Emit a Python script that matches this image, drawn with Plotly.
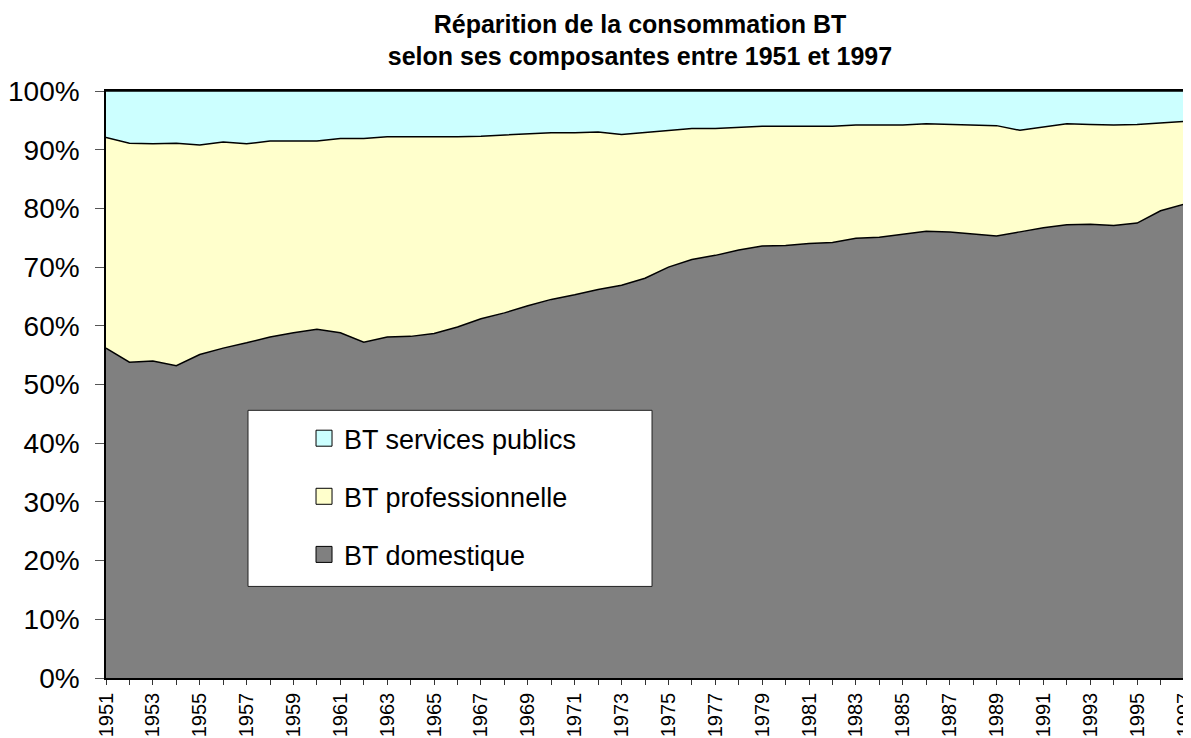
import plotly.graph_objects as go

years = list(range(1951, 1998))

bt_domestique = [56.2, 53.8, 54.0, 53.2, 55.1, 56.2, 57.1, 58.1, 58.8, 59.4,
                 58.8, 57.2, 58.1, 58.2, 58.7, 59.8, 61.2, 62.2, 63.4, 64.5,
                 65.3, 66.2, 66.9, 68.1, 70.0, 71.3, 72.0, 72.9, 73.6, 73.7,
                 74.0, 74.2, 74.9, 75.1, 75.6, 76.1, 76.0, 75.6, 75.3, 76.0,
                 76.7, 77.2, 77.3, 77.1, 77.5, 79.6, 80.7]

bt_professionnelle = [35.9, 37.3, 37.0, 37.9, 35.7, 35.1, 33.9, 33.4, 32.7, 32.1,
                      33.1, 34.7, 34.1, 34.0, 33.4, 32.4, 31.1, 30.3, 29.3, 28.4,
                      27.6, 26.8, 25.7, 24.8, 23.3, 22.3, 21.6, 20.9, 20.4, 20.3,
                      20.0, 19.8, 19.3, 19.1, 18.6, 18.3, 18.3, 18.6, 18.8, 17.3,
                      17.1, 17.2, 17.0, 17.1, 16.8, 14.9, 14.1]

bt_services_publics = [7.9, 8.9, 9.0, 8.9, 9.2, 8.7, 9.0, 8.5, 8.5, 8.5,
                       8.1, 8.1, 7.8, 7.8, 7.9, 7.8, 7.7, 7.5, 7.3, 7.1,
                       7.1, 7.0, 7.4, 7.1, 6.7, 6.4, 6.4, 6.2, 6.0, 6.0,
                       6.0, 6.0, 5.8, 5.8, 5.8, 5.6, 5.7, 5.8, 5.9, 6.7,
                       6.2, 5.6, 5.7, 5.8, 5.7, 5.5, 5.2]

series = [
    ("BT domestique", bt_domestique, "#808080"),
    ("BT professionnelle", bt_professionnelle, "#FFFFCC"),
    ("BT services publics", bt_services_publics, "#CCFFFF"),
]

FONT = "Liberation Sans, Arial, sans-serif"

fig = go.Figure()
for name, vals, col in series:
    fig.add_trace(go.Scatter(
        x=years, y=vals, name=name, stackgroup="one", mode="lines",
        line=dict(color="black", width=1.5), fillcolor=col,
        showlegend=False))

# legend entries (square swatches), services on top
for i, (name, vals, col) in enumerate(reversed(series)):
    fig.add_trace(go.Scatter(
        x=[None], y=[None], name=name, mode="markers",
        marker=dict(symbol="square", size=16, color=col,
                    line=dict(color="black", width=1)),
        legendgroup=f"g{i}", legendrank=i + 1, showlegend=True))

# legend box
fig.add_shape(type="rect", xref="x", yref="y",
              x0=1957.06, x1=1974.3, y0=15.6, y1=45.6,
              fillcolor="white", line=dict(color="#222222", width=1),
              layer="above")

# page has an 8px body margin: figure is 8px smaller, margins shifted
fig.update_layout(
    width=1183, height=730,
    margin=dict(l=98, r=7, t=83, b=60, autoexpand=False),
    paper_bgcolor="white", plot_bgcolor="white",
    font=dict(family=FONT, color="black"),
    title=dict(
        text="Réparition de la consommation BT<br>selon ses composantes entre 1951 et 1997",
        font=dict(family=FONT, size=25, color="black", weight="bold"),
        x=0.5342, xanchor="center", y=0.966, yanchor="top"),
    showlegend=True,
    legend=dict(
        x=0.1837, xanchor="left", y=0.4495, yanchor="top",
        traceorder="grouped", tracegroupgap=20,
        bgcolor="rgba(0,0,0,0)", borderwidth=0,
        font=dict(family=FONT, size=27, color="black"),
        itemsizing="trace"),
    hovermode=False,
)

fig.update_xaxes(
    range=[1951, 1997], tick0=1951, dtick=2, tickangle=-90,
    ticks="outside", ticklen=5, tickcolor="#333333",
    minor=dict(dtick=1, ticks="outside", ticklen=5, tickcolor="#333333"),
    showline=True, linecolor="black", linewidth=1.5, mirror=True,
    showgrid=False, zeroline=False, automargin=False,
    ticklabeloverflow="allow",
    tickfont=dict(family=FONT, size=20, color="black"))

fig.update_yaxes(
    range=[0, 100], dtick=10, ticksuffix="%",
    ticks="outside", ticklen=9, tickcolor="#555555",
    showline=True, linecolor="black", linewidth=1.5, mirror=True,
    showgrid=False, zeroline=False, ticklabelstandoff=10, automargin=False,
    tickfont=dict(family=FONT, size=28, color="black"))

fig.write_html("out.html")
